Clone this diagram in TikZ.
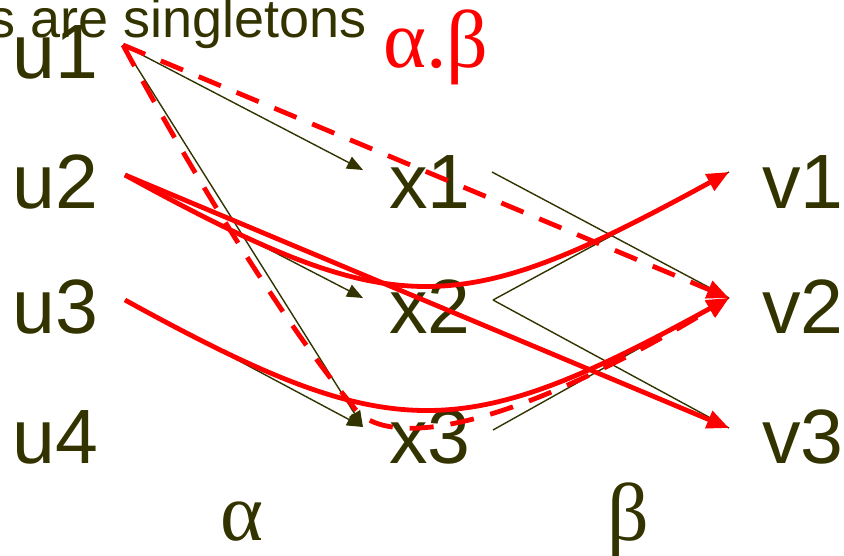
\documentclass[tikz,border=0pt]{standalone}
\usepackage{fontspec}
\setmainfont{Liberation Sans}
\newfontfamily\grk{Liberation Serif}
\usetikzlibrary{arrows.meta}
\definecolor{olive}{RGB}{51,51,0}
\definecolor{rd}{RGB}{255,0,0}
\begin{document}
\begin{tikzpicture}[x=1pt,y=-1pt,
  lbl/.style={anchor=base west,inner sep=0pt,text=olive,font=\fontsize{77}{90}\selectfont},
  grklbl/.style={anchor=base west,inner sep=0pt,font=\grk\fontsize{82}{96}\selectfont},
  darr/.style={draw=olive,line width=1.4pt,-{Triangle[length=16pt,width=13pt]}},
  dline/.style={draw=olive,line width=1.4pt},
  rarr/.style={draw=rd,line width=4.8pt,-{Triangle[length=22pt,width=18pt]}},
  rdash/.style={rarr,dash pattern=on 24pt off 17pt}]
\useasboundingbox (0,0) rectangle (844,555);
% text
\node[anchor=base west,inner sep=0pt,text=olive,font=\fontsize{54}{60}\selectfont] (title) at (-12,37) {s are singletons};
\node[lbl] (u1) at (12,78) {u1};
\node[lbl] (u2) at (12,208) {u2};
\node[lbl] (u3) at (12,333) {u3};
\node[lbl] (u4) at (12,463) {u4};
\node[lbl] (x1) at (389,208) {x1};
\node[lbl] (x2) at (389,333) {x2};
\node[lbl] (x3) at (389,463) {x3};
\node[lbl] (v1) at (762,208) {v1};
\node[lbl] (v2) at (762,333) {v2};
\node[lbl] (v3) at (762,463) {v3};
\node[grklbl,text=rd] (ab) at (383,67) {α.β};
\node[grklbl,text=olive] (alpha) at (220,540) {α};
\node[grklbl,text=olive] (beta) at (607,540) {β};
% connection points
\coordinate (u1p) at (123,45);
\coordinate (u2p) at (125,175);
\coordinate (u3p) at (125,300);
\coordinate (x1in) at (363,170);
\coordinate (x2in) at (363,298);
\coordinate (x3in) at (363,427);
\coordinate (x1out) at (492,172);
\coordinate (x2out) at (493,300);
\coordinate (x3out) at (493,430);
\coordinate (v1in) at (729,172);
\coordinate (v2in) at (729,298);
\coordinate (v3in) at (729,428);
% alpha arrows
\draw[darr] (u1p) -- (x1in);
\draw[darr] (u1p) -- (x3in);
\draw[darr] (u2p) -- (x2in);
\draw[darr] (u3p) -- (x3in);
% beta lines
\draw[dline] (x1out) -- (v2in);
\draw[dline] (x2out) -- (v1in);
\draw[dline] (x2out) -- (v3in);
\draw[dline] (x3out) -- (v2in);
% red composite
\draw[rdash] (u1p) -- (v2in);
\draw[rdash] (u1p) .. controls (190,170) and (285,325) .. (352,405) .. controls (385,455) and (520,425) .. (v2in);
\draw[rarr] (u2p) -- (v3in);
\draw[rarr] (u2p) .. controls (397,324) and (456,321) .. (v1in);
\draw[rarr] (u3p) .. controls (392,447) and (461,445) .. (v2in);
\end{tikzpicture}
\end{document}
